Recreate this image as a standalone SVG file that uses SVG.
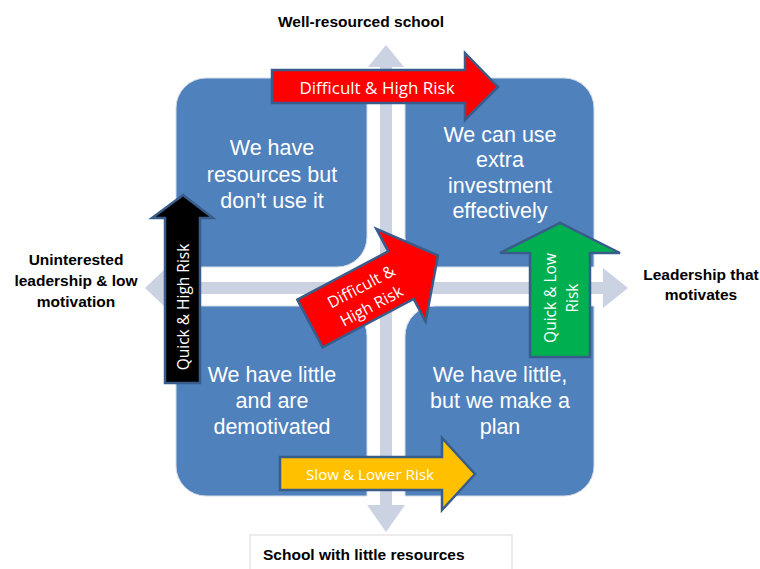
<svg xmlns="http://www.w3.org/2000/svg" width="760" height="569" viewBox="0 0 760 569">
<style>
.quad{fill:#4f81bd;stroke:#d6dbe3;stroke-width:1}
.qt{font-family:"Liberation Sans",Arial,sans-serif;font-size:21.5px;fill:#ffffff;text-anchor:middle}
.lab{font-family:"Liberation Sans",Arial,sans-serif;font-weight:bold;font-size:15.5px;fill:#000000;text-anchor:middle}
.arr{stroke:#385d8a;stroke-width:2.5;stroke-linejoin:miter}
.at{font-family:"Open Sans","Liberation Sans",sans-serif;fill:#ffffff;text-anchor:middle}
.axis{fill:#cbd3e3}
</style>
<rect width="760" height="569" fill="#ffffff"/>
<g id="quadrant-tl"><path class="quad" d="M176,108 A30,30 0 0 1 206,78 L367,78 L367,237 A30,30 0 0 1 337,267 L176,267 Z"/>
<text class="qt" x="272" y="155">We have</text><text class="qt" x="272" y="182">resources but</text><text class="qt" x="272" y="208">don't use it</text></g>
<g id="quadrant-tr"><path class="quad" d="M405,78 L564,78 A30,30 0 0 1 594,108 L594,267 L435,267 A30,30 0 0 1 405,237 Z"/>
<text class="qt" x="500" y="142">We can use</text><text class="qt" x="500" y="167">extra</text><text class="qt" x="500" y="193">investment</text><text class="qt" x="500" y="218">effectively</text></g>
<g id="quadrant-bl"><path class="quad" d="M176,306 L337,306 A30,30 0 0 1 367,336 L367,496 L206,496 A30,30 0 0 1 176,466 Z"/>
<text class="qt" x="272" y="382">We have little</text><text class="qt" x="272" y="408">and are</text><text class="qt" x="272" y="434">demotivated</text></g>
<g id="quadrant-br"><path class="quad" d="M435,306 L594,306 L594,466 A30,30 0 0 1 564,496 L405,496 L405,336 A30,30 0 0 1 435,306 Z"/>
<text class="qt" x="500" y="382">We have little,</text><text class="qt" x="500" y="408">but we make a</text><text class="qt" x="500" y="434">plan</text></g>
<g id="connectors">
<polygon class="axis" points="386,45 368,67 380,67 380,505 367,505 386,532 405,505 392,505 392,67 404,67"/>
<polygon class="axis" points="145,288 166,268 166,282 603,282 603,268 628,288 603,308 603,294 166,294 166,308"/>
</g>
<g id="label-top"><text class="lab" x="361" y="27">Well-resourced school</text></g>
<g id="label-left"><text class="lab" x="76" y="265">Uninterested</text><text class="lab" x="76" y="286">leadership &amp; low</text><text class="lab" x="76" y="307">motivation</text></g>
<g id="label-right"><text class="lab" x="701" y="280">Leadership that</text><text class="lab" x="701" y="300">motivates</text></g>
<g id="label-bottom"><rect x="250" y="535" width="262" height="40" fill="#ffffff" stroke="#d9d9d9" stroke-width="1"/><text class="lab" x="263" y="560" style="text-anchor:start">School with little resources</text></g>
<g id="arrow-top"><polygon class="arr" fill="#ff0000" points="272,70 465,70 465,53 498,87 465,120 465,103 272,103"/>
<text class="at" x="377" y="94" font-size="17">Difficult &amp; High Risk</text></g>
<g id="arrow-left"><polygon class="arr" fill="#000000" points="165,383 165,218 152,218 183,195 213,218 200,218 200,383"/>
<text class="at" font-size="15.5" transform="translate(183,307) rotate(-90)" x="0" y="5.5">Quick &amp; High Risk</text></g>
<g id="arrow-right"><polygon class="arr" fill="#00b050" points="530,357 530,253 500,253 560,223 620,253 590,253 590,357"/>
<text class="at" font-size="15.5" transform="translate(560,298) rotate(-90)"><tspan x="0" y="-4.5">Quick &amp; Low</tspan><tspan x="0" y="18">Risk</tspan></text></g>
<g id="arrow-center" transform="translate(374,289.5) rotate(-28)"><polygon class="arr" fill="#ff0000" points="-72.5,-27 30.5,-27 30.5,-52.5 72.5,0 30.5,52.5 30.5,27 -72.5,27"/>
<text class="at" font-size="16"><tspan x="-10" y="-3">Difficult &amp;</tspan><tspan x="-10" y="19">High Risk</tspan></text></g>
<g id="arrow-bottom"><polygon class="arr" fill="#ffc000" points="280,457 442,457 442,438 475,474 442,510 442,490 280,490"/>
<text class="at" x="370" y="480" font-size="15.2">Slow &amp; Lower Risk</text></g>
</svg>
